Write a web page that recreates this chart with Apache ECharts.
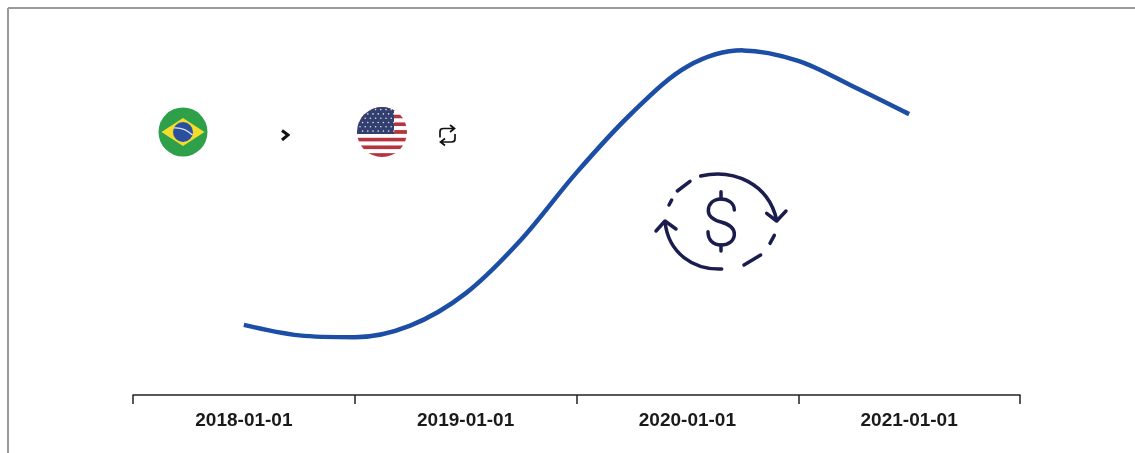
<!DOCTYPE html>
<html><head><meta charset="utf-8">
<style>html,body{margin:0;padding:0;background:#fff}#c{width:1135px;height:453px}</style>
<script src="https://cdn.jsdelivr.net/npm/echarts@6/dist/echarts.min.js"></script></head>
<body><div id="c"></div>
<script>
const categories = ['2018-01-01','2019-01-01','2020-01-01','2021-01-01'];
const yearsSinceStart = [0,0.25,0.5,0.75,1,1.25,1.5,1.75,2,2.25,2.5,2.75,3];
const rate = [18.7,15.9,15.4,18.5,27.1,41.4,59.3,75.2,87.6,91.9,89.1,82.2,74.9];

function svgUri(body, w, h){
  return 'data:image/svg+xml;charset=utf-8,' + encodeURIComponent(
    `<svg xmlns="http://www.w3.org/2000/svg" width="${w*2}" height="${h*2}" viewBox="0 0 ${w} ${h}">${body}</svg>`);
}
let stripes = '';
for (let i = 0; i < 13; i++) stripes += `<rect x="0" y="${i*50/13}" width="50" height="${50/13+0.02}" fill="${i%2?'#fff':'#b5343f'}"/>`;
let stars = '';
for (let r = 0; r < 6; r++) for (let k = 0; k < 7; k++) stars += `<circle cx="${3+k*5.2+(r%2)*2.6}" cy="${2.6+r*4.3}" r="0.8" fill="#d8dcea"/>`;
const usFlag = svgUri(`<defs><clipPath id="k"><circle cx="25" cy="25" r="25"/></clipPath></defs><g clip-path="url(#k)">${stripes}<rect width="37" height="27" fill="#33406f"/>${stars}</g>`,50,50);
const brFlag = svgUri(`<circle cx="25" cy="25" r="24.5" fill="#2fa04a"/><polygon points="3.5,25 25,11 46.5,25 25,39" fill="#f4dc2e"/><circle cx="25" cy="25" r="10" fill="#2a4f9e"/><path d="M15.5 21 Q26 20 34.5 28" fill="none" stroke="#dfe6f2" stroke-width="1.2"/>`,50,50);
const dollar = svgUri(`<g fill="none" stroke="#1a1d4d" stroke-width="10.5" stroke-linecap="round" stroke-linejoin="round">
<path d="M182 48C280 25 385 70 410 180"/><path d="M380 160L410 183L438 153"/>
<path d="M112 93L150 64"/><path d="M87 135L95 120"/>
<path d="M245 327C160 330 85 280 75 185"/><path d="M48 213L75 183L108 207"/>
<path d="M390 250L403 226"/><path d="M312 315L362 285"/>
<path d="M283 150C283 130 265 117 243 117C220 117 205 132 205 152C205 172 222 180 243 186C265 192 283 202 283 222C283 243 265 255 243 255C220 255 204 240 204 215"/>
<path d="M243 95V117M243 255V273"/></g>`,480,360);
const chevron = svgUri(`<path d="M2 1.5L8 6L2 11" fill="none" stroke="#111" stroke-width="3"/>`,10,12);
const repeatIcon = svgUri(`<g fill="none" stroke="#111" stroke-width="1.7"><path d="M2 13.5V7.5Q2 4.5 5.5 4.5H16M12 1L16.5 4.5L12 8"/><path d="M17 10V15Q17 18 13.5 18H2.5M7 14.5L2.5 18L7 21.5"/></g>`,20,23);

const chart = echarts.init(document.getElementById('c'), null, {renderer:'canvas'});
chart.setOption({
  animation:false,
  backgroundColor:'#fff',
  grid:{left:133,width:887,top:20,height:375},
  xAxis:[
    {type:'category',data:categories,boundaryGap:true,
     axisLine:{show:true,lineStyle:{color:'#222',width:1.5}},
     axisTick:{show:true,length:9,lineStyle:{color:'#222',width:1.5},alignWithLabel:false},
     axisLabel:{fontFamily:'Liberation Sans',fontWeight:'bold',fontSize:19,color:'#1a1a1a',margin:16,interval:0},
     splitLine:{show:false}},
    {type:'value',min:-0.5,max:3.5,show:false,splitLine:{show:false}}
  ],
  yAxis:{type:'value',min:0,max:100,show:false},
  series:[{type:'line',xAxisIndex:1,data:yearsSinceStart.map((t,i)=>[t,rate[i]]),smooth:0.33,symbol:'none',
    lineStyle:{color:'#1c4ea6',width:4.5,cap:'butt'}}],
  graphic:[
    {type:'line',shape:{x1:8,y1:8,x2:1135,y2:8},style:{stroke:'#9a9a9e',lineWidth:2}},
    {type:'line',shape:{x1:8,y1:8,x2:8,y2:453},style:{stroke:'#9a9a9e',lineWidth:2}},
    {type:'image',style:{image:brFlag,x:158,y:107,width:50,height:50}},
    {type:'image',style:{image:usFlag,x:357,y:107,width:50,height:50}},
    {type:'image',style:{image:chevron,x:280,y:129,width:10,height:12}},
    {type:'image',style:{image:repeatIcon,x:438,y:124,width:20,height:23}},
    {type:'image',style:{image:dollar,x:640,y:160,width:160,height:120}}
  ]
});
</script></body></html>
